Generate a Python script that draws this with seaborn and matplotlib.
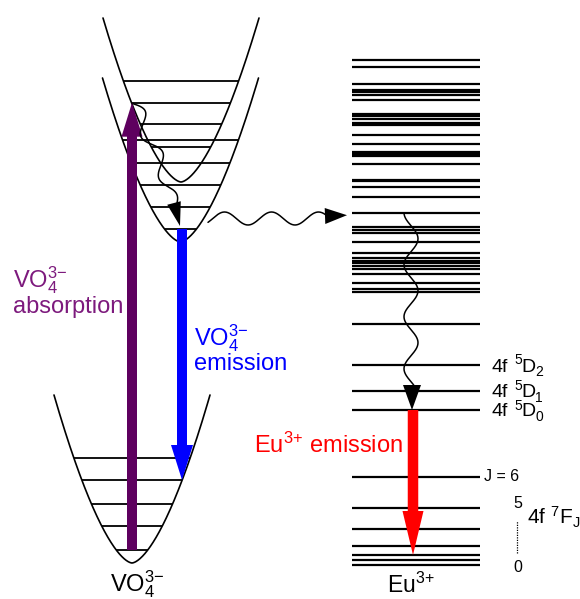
import numpy as np
import matplotlib
matplotlib.use("Agg")
import matplotlib.pyplot as plt
import seaborn as sns

# ---------------- data (energies in arbitrary units, x in diagram units) ----------------
# Vanadate configuration-coordinate wells
well_center = [132.0, 181.0, 180.5]      # ground, excited (upper), excited (relaxed)
well_min = [36.0, 417.0, 357.0]
well_rim = [204.0, 581.0, 521.0]
well_halfwidth = 78.0
well_power = 1.6

# Vibrational levels of each well
ground_levels = [49, 73, 95, 119, 141]
excited_upper_levels = [452.5, 475, 496.3, 518.3]
excited_relaxed_levels = [370, 392, 414.5, 436, 459]

# Eu3+ levels
eu_manifold = [539.3, 532.3, 514.7, 509.5, 507.0, 504.5, 499.0, 485.5, 482.7, 480.0,
               476.0, 474.5, 464.0, 455.3, 447.0, 445.0, 443.0, 435.3, 419.5, 418.0,
               412.3, 402.3, 386.3, 371.7, 369.0, 366.3, 357.3, 346.3, 340.7, 338.3,
               335.7, 333.0, 329.7, 325.0, 315.7, 309.7, 307.3, 275.0]
eu_d_levels = [189.0, 208.3, 234.0]                      # 5D0, 5D1, 5D2
eu_d_j = ["0", "1", "2"]
eu_f_levels = [34.0, 39.0, 44.0, 53.5, 70.0, 91.5, 122.5]  # 7F0 ... 7F6
eu_transfer_level = 386.3
eu_x = (352, 480)

VO4 = r"$\mathregular{VO_4^{\text{3−}}}$"
EU = r"$\mathregular{Eu^{\text{3+}}}$"

PURPLE_ARROW = "#5e005f"
PURPLE_TEXT = "#7d1a7d"
BLUE = "#0000ff"
RED = "#ff0000"

# ---------------- figure ----------------
sns.set_theme(style="white")
plt.rcParams["font.family"] = ["Liberation Sans", "DejaVu Sans"]
plt.rcParams["mathtext.fontset"] = "custom"
plt.rcParams["mathtext.rm"] = "Liberation Sans"
plt.rcParams["mathtext.it"] = "Liberation Sans:italic"
plt.rcParams["mathtext.bf"] = "Liberation Sans:bold"

fig = plt.figure(figsize=(5.8, 5.99), dpi=100)
ax = fig.add_axes([0, 0, 1, 1])
ax.set_xlim(0, 580)
ax.set_ylim(0, 599)
ax.axis("off")


def half_width(E, emin, erim):
    return well_halfwidth * ((E - emin) / (erim - emin)) ** (1.0 / well_power)


# potential wells
u = np.linspace(-1, 1, 401)
for xc, emin, erim in zip(well_center, well_min, well_rim):
    xs = xc + well_halfwidth * u
    es = emin + (erim - emin) * np.abs(u) ** well_power
    sns.lineplot(x=xs, y=es, sort=False, estimator=None, color="black",
                 linewidth=1.2, ax=ax, zorder=2)

# vibrational levels
for levels, idx in ((ground_levels, 0), (excited_upper_levels, 1), (excited_relaxed_levels, 2)):
    xc, emin, erim = well_center[idx], well_min[idx], well_rim[idx]
    for E in levels:
        d = half_width(E, emin, erim)
        ax.hlines(E, xc - d, xc + d, color="black", linewidth=1.3, zorder=2)

# Eu3+ levels
for E in eu_manifold + eu_d_levels + eu_f_levels:
    ax.hlines(E, eu_x[0], eu_x[1], color="black", linewidth=1.6, zorder=2)

# absorption / emission arrows
absorb_from, absorb_to = ground_levels[0], excited_upper_levels[2]
ax.arrow(well_center[0], absorb_from, 0, absorb_to - absorb_from, width=10,
         head_width=21, head_length=34, length_includes_head=True,
         fc=PURPLE_ARROW, ec="none", zorder=5)
emit_from, emit_to = excited_relaxed_levels[0], ground_levels[3]
ax.arrow(182, emit_from, 0, emit_to - emit_from, width=10,
         head_width=22, head_length=35, length_includes_head=True,
         fc=BLUE, ec="none", zorder=5)
eu_from, eu_to = eu_d_levels[0], eu_f_levels[2]
ax.arrow(413, eu_from, 0, eu_to - eu_from, width=10.5,
         head_width=21, head_length=44, length_includes_head=True,
         fc=RED, ec="none", zorder=5)


def head(ax, base, tip, hw):
    bx, by = base
    tx, ty = tip
    dx, dy = tx - bx, ty - by
    n = np.hypot(dx, dy)
    px, py = -dy / n * hw, dx / n * hw
    ax.fill([bx + px, tx, bx - px], [by + py, ty, by - py], color="black",
            lw=0, zorder=7)


# non-radiative relaxation inside the vanadate well
p0 = np.array([133.0, absorb_to - 1])
p1 = np.array([174.0, 395.0])
t = np.linspace(0, 1, 300)
dvec = (p1 - p0) / np.linalg.norm(p1 - p0)
nvec = np.array([-dvec[1], dvec[0]])
off = 8.0 * np.sin(2 * np.pi * 2.4 * t) * (1 - 0.3 * t) + 2.5 * np.sin(np.pi * t)
path = p0[None, :] + t[:, None] * (p1 - p0)[None, :] + off[:, None] * nvec[None, :]
ax.plot(path[:, 0], path[:, 1], color="black", lw=1.1, zorder=6)
head(ax, (174, 396), (180, emit_from + 3), 7)

# energy transfer VO4 -> Eu
xw = np.linspace(208, 326, 300)
yw = 380.5 - 6.5 * np.cos(2 * np.pi * (xw - 248) / 47)
ax.plot(xw, yw, color="black", lw=1.1, zorder=6)
head(ax, (325, 383), (347, eu_transfer_level - 2.5), 8)

# relaxation within Eu3+
ew = np.linspace(eu_transfer_level, 214, 300)
xe = 411 - 7 * np.cos(2 * np.pi * (eu_transfer_level - ew) / 52)
ax.plot(xe, ew, color="black", lw=1.1, zorder=6)
head(ax, (412, 214), (412, eu_d_levels[0]), 9)

# ---------------- labels ----------------
big = 17
ax.text(13, 312, VO4, color=PURPLE_TEXT, fontsize=big, ha="left", va="baseline")
ax.text(13, 286, "absorption", color=PURPLE_TEXT, fontsize=big, ha="left", va="baseline")
ax.text(194, 254, VO4, color=BLUE, fontsize=big, ha="left", va="baseline")
ax.text(194, 229, "emission", color=BLUE, fontsize=big, ha="left", va="baseline")
ax.text(403, 146, EU + " emission", color=RED, fontsize=big, ha="right", va="baseline")

# 4f 5DJ term labels, set piece by piece so the stacked labels stay compact
lab_fs, small_fs = 14, 10
for E, j in zip(eu_d_levels, eu_d_j):
    b = E - 6.5
    ax.text(492, b, "4f", fontsize=lab_fs, ha="left", va="baseline", color="black")
    ax.text(514, b + 7, "5", fontsize=small_fs, ha="left", va="baseline", color="black")
    ax.text(521.5, b, "D", fontsize=lab_fs, ha="left", va="baseline", color="black")
    ax.text(535.5, b - 4.5, j, fontsize=small_fs, ha="left", va="baseline", color="black")

ax.text(484, eu_f_levels[6], "J = 6", fontsize=11.5, ha="left", va="center", color="black")
ax.text(513, eu_f_levels[5], "5", fontsize=11.5, ha="left", va="baseline", color="black")
ax.text(513, 27, "0", fontsize=11.5, ha="left", va="baseline", color="black")
ax.plot([516.5, 516.5], [46, 78], color="black", lw=0.9, ls=(0, (1, 1)), zorder=3)
ax.text(527, 74, r"4f $\mathregular{{}^{7}F_{J}}$", fontsize=15, ha="left",
        va="baseline", color="black")

ax.text(137, 8, VO4, fontsize=big, ha="center", va="baseline", color="black")
ax.text(411, 6, EU, fontsize=16.5, ha="center", va="baseline", color="black")

fig.savefig("out.png", dpi=100, facecolor="white")
